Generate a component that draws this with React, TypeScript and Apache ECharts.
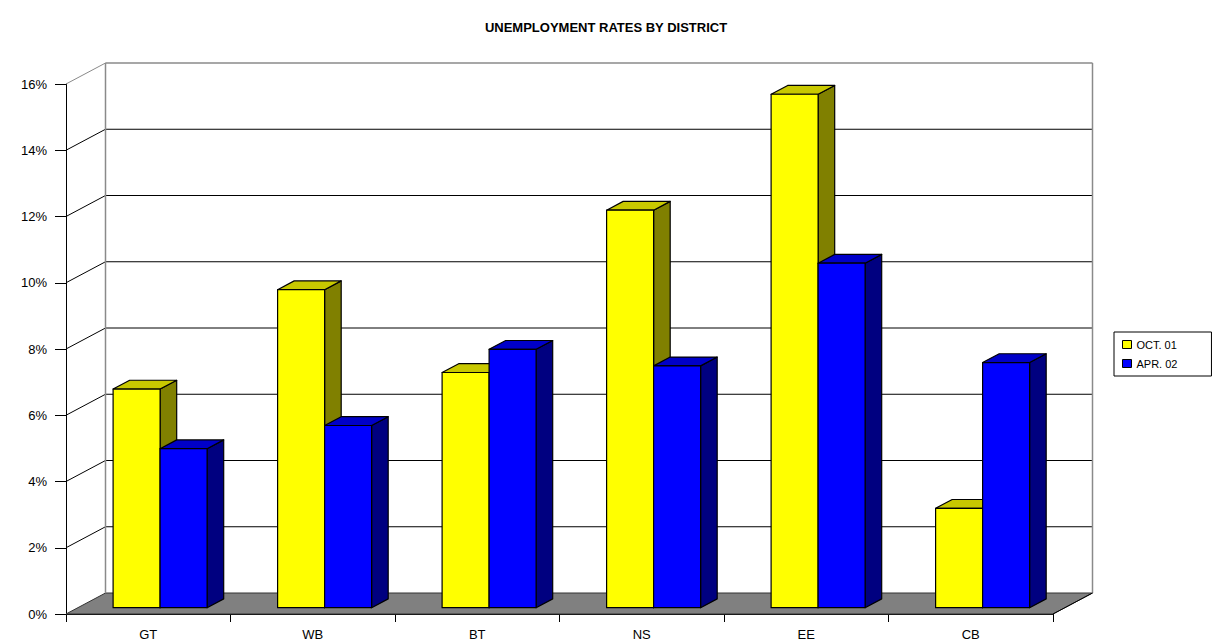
import React, { useEffect, useRef } from "react";
import * as echarts from "echarts";

const TITLE = "UNEMPLOYMENT RATES BY DISTRICT";
const CATEGORIES = ["GT", "WB", "BT", "NS", "EE", "CB"];
const SERIES_NAMES = ["OCT. 01", "APR. 02"];
const OCT01 = [6.6, 9.6, 7.1, 12.0, 15.5, 3.0];
const APR02 = [4.8, 5.5, 7.8, 7.3, 10.4, 7.4];
const TICKS = [0, 2, 4, 6, 8, 10, 12, 14, 16];

// 3D look (styles, not data)
const DEPTH_X = 39.5;
const DEPTH_Y = -21;
const BAR_D0 = 0.3;
const BAR_DEPTH = 0.42;
const FACE = [
  { front: "#FFFF00", top: "#C8C800", side: "#808000" },
  { front: "#0000FF", top: "#0000C8", side: "#000080" },
];
const FONT = "'Liberation Sans', Arial, sans-serif";

function barRenderer(s: number) {
  return (params: any, api: any) => {
    const i = api.value(0);
    const v = api.value(1);
    const top = api.coord([i, v]);
    const base = api.coord([i, 0]);
    const band = api.size([1, 0])[0];
    const bw = band / 3.5;
    const ox = BAR_D0 * DEPTH_X;
    const oy = BAR_D0 * DEPTH_Y;
    const x0 = top[0] - bw + s * bw + ox;
    const x1 = x0 + bw;
    const yT = top[1] + oy;
    const yB = base[1] + oy;
    const bx = BAR_DEPTH * DEPTH_X;
    const by = BAR_DEPTH * DEPTH_Y;
    const c = FACE[s];
    const stroke = { stroke: "#000", lineWidth: 1.2, lineJoin: "round" };
    return {
      type: "group",
      children: [
        {
          type: "polygon",
          shape: { points: [[x1, yB], [x1 + bx, yB + by], [x1 + bx, yT + by], [x1, yT]] },
          style: { fill: c.side, ...stroke },
        },
        {
          type: "polygon",
          shape: { points: [[x0, yT], [x1, yT], [x1 + bx, yT + by], [x0 + bx, yT + by]] },
          style: { fill: c.top, ...stroke },
        },
        {
          type: "rect",
          shape: { x: x0, y: yT, width: bw, height: yB - yT },
          style: { fill: c.front, ...stroke },
        },
      ],
    };
  };
}

function wallRenderer(params: any, api: any) {
  const cs = params.coordSys;
  const xl = cs.x;
  const xr = cs.x + cs.width;
  const y0 = api.coord([0, TICKS[0]])[1];
  const yTop = api.coord([0, TICKS[TICKS.length - 1]])[1];
  const children: any[] = [];
  children.push({
    type: "polygon",
    shape: {
      points: [[xl, y0], [xr, y0], [xr + DEPTH_X, y0 + DEPTH_Y], [xl + DEPTH_X, y0 + DEPTH_Y]],
    },
    style: { fill: "#808080", stroke: "#333", lineWidth: 1 },
  });
  TICKS.forEach((t, k) => {
    const y = api.coord([0, t])[1];
    const isTop = k === TICKS.length - 1;
    const col = isTop ? "#8a8a8a" : "#000";
    if (k !== 0) {
      children.push({
        type: "line",
        shape: { x1: xl + DEPTH_X, y1: y + DEPTH_Y, x2: xr + DEPTH_X, y2: y + DEPTH_Y },
        style: { stroke: col, lineWidth: isTop ? 1.5 : 1 },
      });
      children.push({
        type: "line",
        shape: { x1: xl, y1: y, x2: xl + DEPTH_X, y2: y + DEPTH_Y },
        style: { stroke: col, lineWidth: 1 },
      });
    }
  });
  children.push({
    type: "line",
    shape: { x1: xl + DEPTH_X, y1: yTop + DEPTH_Y, x2: xl + DEPTH_X, y2: y0 + DEPTH_Y },
    style: { stroke: "#8a8a8a", lineWidth: 1.5 },
  });
  children.push({
    type: "line",
    shape: { x1: xr + DEPTH_X, y1: yTop + DEPTH_Y, x2: xr + DEPTH_X, y2: y0 + DEPTH_Y },
    style: { stroke: "#8a8a8a", lineWidth: 1.5 },
  });
  children.push({
    type: "line",
    shape: { x1: xr, y1: y0, x2: xr + DEPTH_X, y2: y0 + DEPTH_Y },
    style: { stroke: "#000", lineWidth: 1 },
  });
  return { type: "group", children };
}

export default function App() {
  const ref = useRef<HTMLDivElement>(null);
  useEffect(() => {
    if (!ref.current) return;
    const chart = echarts.init(ref.current, undefined, { renderer: "svg" });
    const seriesData = [OCT01, APR02];
    chart.setOption({
      animation: false,
      backgroundColor: "#fff",
      title: {
        text: TITLE,
        left: 601,
        textAlign: "center",
        top: 16,
        textStyle: { fontFamily: FONT, fontSize: 13, fontWeight: "bold", color: "#000" },
      },
      legend: {
        orient: "vertical",
        left: 1114,
        top: 332,
        padding: [7, 34, 7, 8],
        itemGap: 8,
        itemWidth: 9,
        itemHeight: 8,
        icon: "rect",
        borderColor: "#000",
        borderWidth: 1,
        textStyle: { fontFamily: FONT, fontSize: 11, color: "#000" },
        data: SERIES_NAMES.map((n, s) => ({
          name: n,
          itemStyle: { color: FACE[s].front, borderColor: "#000", borderWidth: 1 },
        })),
      },
      grid: { left: 66, right: 163, top: 84, bottom: 27 },
      xAxis: {
        type: "category",
        data: CATEGORIES,
        boundaryGap: true,
        axisLine: { lineStyle: { color: "#000", width: 1 } },
        axisTick: { show: true, length: 8, alignWithLabel: false, lineStyle: { color: "#000" } },
        axisLabel: { fontFamily: FONT, fontSize: 13, color: "#000", margin: 14 },
        splitLine: { show: false },
      },
      yAxis: {
        type: "value",
        min: TICKS[0],
        max: TICKS[TICKS.length - 1],
        interval: 2,
        axisLine: { show: true, lineStyle: { color: "#000", width: 1 } },
        axisTick: { show: true, length: 11, lineStyle: { color: "#000" } },
        axisLabel: { fontFamily: FONT, fontSize: 13, color: "#000", margin: 19, formatter: "{value}%" },
        splitLine: { show: false },
      },
      series: [
        {
          type: "custom",
          name: "wall",
          z: 1,
          silent: true,
          renderItem: wallRenderer,
          data: [[0, 0]],
          encode: { x: 0, y: 1 },
        },
        ...SERIES_NAMES.map((n, s) => ({
          type: "custom",
          name: n,
          z: 2 + s,
          renderItem: barRenderer(s),
          itemStyle: { color: FACE[s].front },
          data: CATEGORIES.map((c, i) => [i, seriesData[s][i]]),
          encode: { x: 0, y: 1 },
        })),
      ],
    });
    return () => chart.dispose();
  }, []);
  return (
    <div
      ref={ref}
      style={{ position: "fixed", left: 0, top: 0, width: 1216, height: 641, background: "#fff" }}
    />
  );
}
